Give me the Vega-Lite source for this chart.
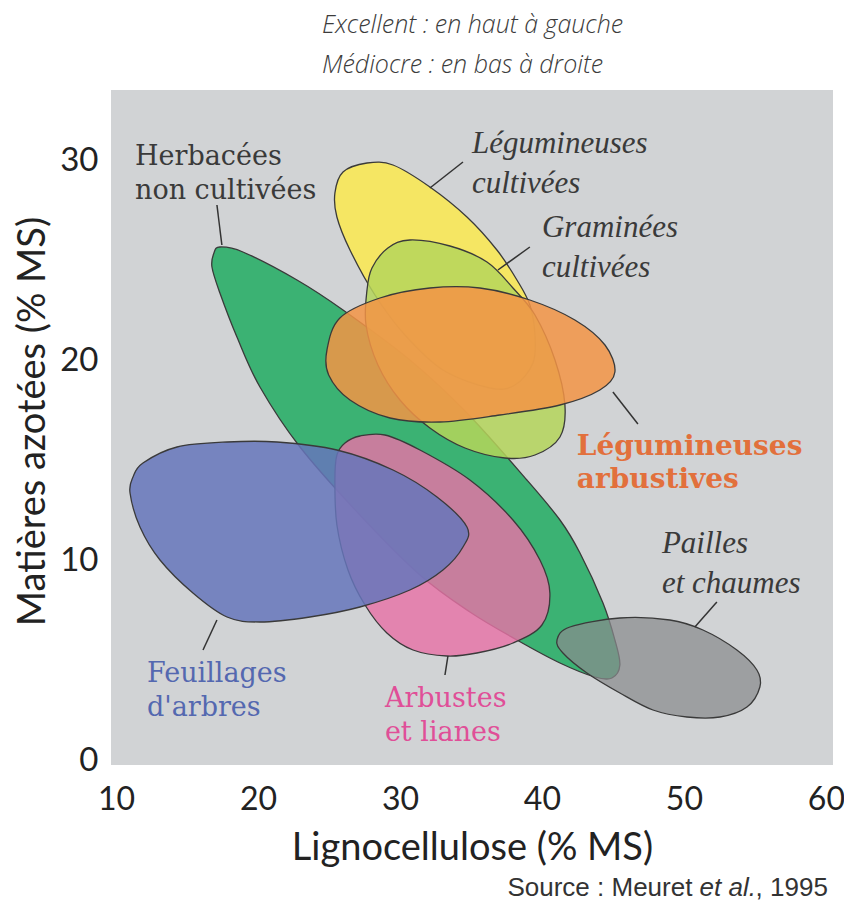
{
  "$schema": "https://vega.github.io/schema/vega-lite/v6.json",
  "width": 722,
  "height": 675,
  "autosize": "none",
  "padding": {"left": 111, "top": 90, "right": 11, "bottom": 141},
  "background": "white",
  "title": {
    "text": ["Excellent : en haut à gauche", "Médiocre : en bas à droite"],
    "anchor": "start",
    "frame": "group",
    "dx": 211,
    "offset": 12,
    "font": "Open Sans",
    "fontSize": 25,
    "fontStyle": "italic",
    "fontWeight": 300,
    "color": "#3c3c3c",
    "lineHeight": 40
  },
  "config": {"view": {"fill": "#d1d3d5", "stroke": null}},
  "datasets": {
    "blobs": [
      {"g": "Herbacées non cultivées", "i": 1, "x": 17.32, "y": 25.65},
      {"g": "Herbacées non cultivées", "i": 2, "x": 18.94, "y": 25.4},
      {"g": "Herbacées non cultivées", "i": 3, "x": 22.75, "y": 24.0},
      {"g": "Herbacées non cultivées", "i": 4, "x": 25.99, "y": 22.5},
      {"g": "Herbacées non cultivées", "i": 5, "x": 30.7, "y": 20.0},
      {"g": "Herbacées non cultivées", "i": 6, "x": 34.72, "y": 17.35},
      {"g": "Herbacées non cultivées", "i": 7, "x": 38.94, "y": 14.0},
      {"g": "Herbacées non cultivées", "i": 8, "x": 41.27, "y": 12.0},
      {"g": "Herbacées non cultivées", "i": 9, "x": 42.68, "y": 10.35},
      {"g": "Herbacées non cultivées", "i": 10, "x": 44.3, "y": 7.85},
      {"g": "Herbacées non cultivées", "i": 11, "x": 45.14, "y": 6.0},
      {"g": "Herbacées non cultivées", "i": 12, "x": 45.49, "y": 4.75},
      {"g": "Herbacées non cultivées", "i": 13, "x": 44.93, "y": 4.1},
      {"g": "Herbacées non cultivées", "i": 14, "x": 43.73, "y": 4.15},
      {"g": "Herbacées non cultivées", "i": 15, "x": 41.27, "y": 4.85},
      {"g": "Herbacées non cultivées", "i": 16, "x": 38.24, "y": 6.0},
      {"g": "Herbacées non cultivées", "i": 17, "x": 34.93, "y": 7.4},
      {"g": "Herbacées non cultivées", "i": 18, "x": 31.41, "y": 9.25},
      {"g": "Herbacées non cultivées", "i": 19, "x": 27.18, "y": 12.25},
      {"g": "Herbacées non cultivées", "i": 20, "x": 22.96, "y": 15.65},
      {"g": "Herbacées non cultivées", "i": 21, "x": 20.14, "y": 18.65},
      {"g": "Herbacées non cultivées", "i": 22, "x": 18.52, "y": 21.15},
      {"g": "Herbacées non cultivées", "i": 23, "x": 17.32, "y": 23.35},
      {"g": "Herbacées non cultivées", "i": 24, "x": 16.76, "y": 24.65},
      {"g": "Herbacées non cultivées", "i": 25, "x": 16.9, "y": 25.35},

      {"g": "Légumineuses cultivées", "i": 1, "x": 27.68, "y": 29.85},
      {"g": "Légumineuses cultivées", "i": 2, "x": 29.51, "y": 29.75},
      {"g": "Légumineuses cultivées", "i": 3, "x": 32.11, "y": 28.65},
      {"g": "Légumineuses cultivées", "i": 4, "x": 34.72, "y": 27.15},
      {"g": "Légumineuses cultivées", "i": 5, "x": 36.83, "y": 25.5},
      {"g": "Légumineuses cultivées", "i": 6, "x": 38.24, "y": 24.0},
      {"g": "Légumineuses cultivées", "i": 7, "x": 39.15, "y": 22.75},
      {"g": "Légumineuses cultivées", "i": 8, "x": 39.51, "y": 21.25},
      {"g": "Légumineuses cultivées", "i": 9, "x": 39.37, "y": 19.85},
      {"g": "Légumineuses cultivées", "i": 10, "x": 38.1, "y": 18.75},
      {"g": "Légumineuses cultivées", "i": 11, "x": 36.34, "y": 18.6},
      {"g": "Légumineuses cultivées", "i": 12, "x": 33.03, "y": 19.5},
      {"g": "Légumineuses cultivées", "i": 13, "x": 30.35, "y": 21.25},
      {"g": "Légumineuses cultivées", "i": 14, "x": 28.24, "y": 23.25},
      {"g": "Légumineuses cultivées", "i": 15, "x": 26.48, "y": 25.5},
      {"g": "Légumineuses cultivées", "i": 16, "x": 25.56, "y": 27.15},
      {"g": "Légumineuses cultivées", "i": 17, "x": 25.42, "y": 28.35},
      {"g": "Légumineuses cultivées", "i": 18, "x": 25.99, "y": 29.4},

      {"g": "Graminées cultivées", "i": 1, "x": 30.7, "y": 26.0},
      {"g": "Graminées cultivées", "i": 2, "x": 33.52, "y": 25.7},
      {"g": "Graminées cultivées", "i": 3, "x": 36.13, "y": 24.9},
      {"g": "Graminées cultivées", "i": 4, "x": 37.96, "y": 23.6},
      {"g": "Graminées cultivées", "i": 5, "x": 39.51, "y": 22.25},
      {"g": "Graminées cultivées", "i": 6, "x": 40.92, "y": 20.0},
      {"g": "Graminées cultivées", "i": 7, "x": 41.62, "y": 17.75},
      {"g": "Graminées cultivées", "i": 8, "x": 41.27, "y": 16.15},
      {"g": "Graminées cultivées", "i": 9, "x": 39.51, "y": 15.25},
      {"g": "Graminées cultivées", "i": 10, "x": 37.39, "y": 15.1},
      {"g": "Graminées cultivées", "i": 11, "x": 34.58, "y": 15.6},
      {"g": "Graminées cultivées", "i": 12, "x": 32.11, "y": 16.6},
      {"g": "Graminées cultivées", "i": 13, "x": 30.0, "y": 18.0},
      {"g": "Graminées cultivées", "i": 14, "x": 28.45, "y": 19.75},
      {"g": "Graminées cultivées", "i": 15, "x": 27.61, "y": 21.75},
      {"g": "Graminées cultivées", "i": 16, "x": 27.68, "y": 23.5},
      {"g": "Graminées cultivées", "i": 17, "x": 28.03, "y": 24.6},
      {"g": "Graminées cultivées", "i": 18, "x": 29.15, "y": 25.6},

      {"g": "Légumineuses arbustives", "i": 1, "x": 24.86, "y": 20.5},
      {"g": "Légumineuses arbustives", "i": 2, "x": 25.77, "y": 22.1},
      {"g": "Légumineuses arbustives", "i": 3, "x": 28.59, "y": 23.1},
      {"g": "Légumineuses arbustives", "i": 4, "x": 32.11, "y": 23.6},
      {"g": "Légumineuses arbustives", "i": 5, "x": 35.63, "y": 23.6},
      {"g": "Légumineuses arbustives", "i": 6, "x": 39.15, "y": 23.0},
      {"g": "Légumineuses arbustives", "i": 7, "x": 42.32, "y": 22.0},
      {"g": "Légumineuses arbustives", "i": 8, "x": 44.44, "y": 20.75},
      {"g": "Légumineuses arbustives", "i": 9, "x": 45.14, "y": 19.4},
      {"g": "Légumineuses arbustives", "i": 10, "x": 44.08, "y": 18.5},
      {"g": "Légumineuses arbustives", "i": 11, "x": 41.27, "y": 17.75},
      {"g": "Légumineuses arbustives", "i": 12, "x": 37.04, "y": 17.25},
      {"g": "Légumineuses arbustives", "i": 13, "x": 32.82, "y": 16.9},
      {"g": "Légumineuses arbustives", "i": 14, "x": 29.3, "y": 17.1},
      {"g": "Légumineuses arbustives", "i": 15, "x": 26.48, "y": 18.0},
      {"g": "Légumineuses arbustives", "i": 16, "x": 24.98, "y": 19.25},

      {"g": "Arbustes et lianes", "i": 1, "x": 26.13, "y": 15.85},
      {"g": "Arbustes et lianes", "i": 2, "x": 27.18, "y": 16.2},
      {"g": "Arbustes et lianes", "i": 3, "x": 28.94, "y": 16.25},
      {"g": "Arbustes et lianes", "i": 4, "x": 31.41, "y": 15.5},
      {"g": "Arbustes et lianes", "i": 5, "x": 34.93, "y": 14.0},
      {"g": "Arbustes et lianes", "i": 6, "x": 37.96, "y": 12.0},
      {"g": "Arbustes et lianes", "i": 7, "x": 39.86, "y": 10.0},
      {"g": "Arbustes et lianes", "i": 8, "x": 40.56, "y": 8.35},
      {"g": "Arbustes et lianes", "i": 9, "x": 40.0, "y": 6.75},
      {"g": "Arbustes et lianes", "i": 10, "x": 37.96, "y": 5.85},
      {"g": "Arbustes et lianes", "i": 11, "x": 35.42, "y": 5.35},
      {"g": "Arbustes et lianes", "i": 12, "x": 33.31, "y": 5.2},
      {"g": "Arbustes et lianes", "i": 13, "x": 30.92, "y": 5.5},
      {"g": "Arbustes et lianes", "i": 14, "x": 29.08, "y": 6.35},
      {"g": "Arbustes et lianes", "i": 15, "x": 27.54, "y": 7.75},
      {"g": "Arbustes et lianes", "i": 16, "x": 26.34, "y": 9.5},
      {"g": "Arbustes et lianes", "i": 17, "x": 25.56, "y": 11.75},
      {"g": "Arbustes et lianes", "i": 18, "x": 25.42, "y": 14.0},
      {"g": "Arbustes et lianes", "i": 19, "x": 25.56, "y": 15.25},

      {"g": "Feuillages d'arbres", "i": 1, "x": 11.9, "y": 14.85},
      {"g": "Feuillages d'arbres", "i": 2, "x": 14.3, "y": 15.65},
      {"g": "Feuillages d'arbres", "i": 3, "x": 17.82, "y": 15.9},
      {"g": "Feuillages d'arbres", "i": 4, "x": 21.34, "y": 15.9},
      {"g": "Feuillages d'arbres", "i": 5, "x": 25.56, "y": 15.5},
      {"g": "Feuillages d'arbres", "i": 6, "x": 29.51, "y": 14.5},
      {"g": "Feuillages d'arbres", "i": 7, "x": 32.61, "y": 13.15},
      {"g": "Feuillages d'arbres", "i": 8, "x": 34.72, "y": 11.65},
      {"g": "Feuillages d'arbres", "i": 9, "x": 34.44, "y": 10.65},
      {"g": "Feuillages d'arbres", "i": 10, "x": 33.03, "y": 9.5},
      {"g": "Feuillages d'arbres", "i": 11, "x": 30.7, "y": 8.5},
      {"g": "Feuillages d'arbres", "i": 12, "x": 27.18, "y": 7.65},
      {"g": "Feuillages d'arbres", "i": 13, "x": 23.66, "y": 7.15},
      {"g": "Feuillages d'arbres", "i": 14, "x": 20.14, "y": 6.9},
      {"g": "Feuillages d'arbres", "i": 15, "x": 17.82, "y": 7.15},
      {"g": "Feuillages d'arbres", "i": 16, "x": 15.42, "y": 8.35},
      {"g": "Feuillages d'arbres", "i": 17, "x": 13.1, "y": 10.0},
      {"g": "Feuillages d'arbres", "i": 18, "x": 11.69, "y": 11.65},
      {"g": "Feuillages d'arbres", "i": 19, "x": 10.99, "y": 13.35},
      {"g": "Feuillages d'arbres", "i": 20, "x": 11.2, "y": 14.15},

      {"g": "Pailles et chaumes", "i": 1, "x": 41.06, "y": 6.0},
      {"g": "Pailles et chaumes", "i": 2, "x": 41.97, "y": 6.65},
      {"g": "Pailles et chaumes", "i": 3, "x": 45.49, "y": 7.1},
      {"g": "Pailles et chaumes", "i": 4, "x": 49.01, "y": 7.0},
      {"g": "Pailles et chaumes", "i": 5, "x": 51.34, "y": 6.5},
      {"g": "Pailles et chaumes", "i": 6, "x": 53.73, "y": 5.5},
      {"g": "Pailles et chaumes", "i": 7, "x": 55.14, "y": 4.5},
      {"g": "Pailles et chaumes", "i": 8, "x": 55.35, "y": 3.65},
      {"g": "Pailles et chaumes", "i": 9, "x": 54.44, "y": 2.65},
      {"g": "Pailles et chaumes", "i": 10, "x": 52.54, "y": 2.15},
      {"g": "Pailles et chaumes", "i": 11, "x": 50.21, "y": 2.15},
      {"g": "Pailles et chaumes", "i": 12, "x": 47.82, "y": 2.5},
      {"g": "Pailles et chaumes", "i": 13, "x": 45.49, "y": 3.35},
      {"g": "Pailles et chaumes", "i": 14, "x": 43.17, "y": 4.35},
      {"g": "Pailles et chaumes", "i": 15, "x": 41.48, "y": 5.35}
    ],
    "leaders": [
      {"x": 17.11, "y": 27.75, "x2": 17.46, "y2": 25.75},
      {"x": 34.44, "y": 29.9, "x2": 32.11, "y2": 28.6},
      {"x": 39.15, "y": 25.65, "x2": 36.9, "y2": 24.5},
      {"x": 45.0, "y": 18.4, "x2": 46.76, "y2": 16.8},
      {"x": 52.32, "y": 7.9, "x2": 50.77, "y2": 6.65},
      {"x": 17.11, "y": 7.0, "x2": 16.13, "y2": 5.5},
      {"x": 33.38, "y": 5.2, "x2": 33.17, "y2": 4.25}
    ],
    "italicLabels": [
      {"t": "Légumineuses\ncultivées", "x": 35.07, "y": 30.35},
      {"t": "Graminées\ncultivées", "x": 40.0, "y": 26.15},
      {"t": "Pailles\net chaumes", "x": 48.45, "y": 10.35}
    ],
    "romanLabels": [
      {"t": "Herbacées\nnon cultivées", "k": "Herbacées", "x": 11.34, "y": 29.75},
      {"t": "Feuillages\nd'arbres", "k": "Feuillages", "x": 12.18, "y": 3.9},
      {"t": "Arbustes\net lianes", "k": "Arbustes", "x": 28.94, "y": 2.65}
    ],
    "boldLabels": [
      {"t": "Légumineuses\narbustives", "x": 42.46, "y": 15.25}
    ],
    "source": [
      {"a": "Source : Meuret", "b": "et al.", "c": ", 1995", "xa": 50.6, "xb": 55.07, "xc": 60.14, "y": -6.8}
    ]
  },
  "encoding": {
    "x": {
      "field": "x",
      "type": "quantitative",
      "scale": {"domain": [9.65, 60.5], "nice": false, "zero": false},
      "axis": {
        "title": "Lignocellulose (% MS)",
        "values": [10, 20, 30, 40, 50, 60],
        "domain": false,
        "ticks": false,
        "grid": false,
        "labelFlush": false,
        "labelFont": "Lato",
        "labelFontSize": 32,
        "labelColor": "#222222",
        "labelPadding": 19,
        "titleFont": "Lato",
        "titleFontSize": 38,
        "titleFontWeight": "normal",
        "titleColor": "#222222",
        "titlePadding": 14
      }
    },
    "y": {
      "field": "y",
      "type": "quantitative",
      "scale": {"domain": [-0.25, 33.5], "nice": false, "zero": false},
      "axis": {
        "title": "Matières azotées (% MS)",
        "values": [0, 10, 20, 30],
        "domain": false,
        "ticks": false,
        "grid": false,
        "labelFont": "Lato",
        "labelFontSize": 33,
        "labelColor": "#222222",
        "labelPadding": 13,
        "titleFont": "Lato",
        "titleFontSize": 38,
        "titleFontWeight": "normal",
        "titleColor": "#222222",
        "titleAngle": 270,
        "titleX": -78,
        "titleY": 331,
        "titleAlign": "center",
        "titleBaseline": "middle"
      }
    }
  },
  "layer": [
    {
      "data": {"name": "blobs"},
      "encoding": {"order": {"field": "i", "type": "quantitative"}},
      "layer": [
        {
          "transform": [{"filter": {"field": "g", "equal": "Herbacées non cultivées"}}],
          "mark": {"type": "line", "interpolate": "cardinal-closed", "stroke": "#3a3a3a", "strokeWidth": 1.3, "fill": "#3bb273", "fillOpacity": 1}
        },
        {
          "transform": [{"filter": {"field": "g", "equal": "Légumineuses cultivées"}}],
          "mark": {"type": "line", "interpolate": "cardinal-closed", "stroke": "#3a3a3a", "strokeWidth": 1.3, "fill": "#f5e663", "fillOpacity": 1}
        },
        {
          "transform": [{"filter": {"field": "g", "equal": "Graminées cultivées"}}],
          "mark": {"type": "line", "interpolate": "cardinal-closed", "stroke": "#3a3a3a", "strokeWidth": 1.3, "fill": "#b5d55a", "fillOpacity": 0.85}
        },
        {
          "transform": [{"filter": {"field": "g", "equal": "Légumineuses arbustives"}}],
          "mark": {"type": "line", "interpolate": "cardinal-closed", "stroke": "#3a3a3a", "strokeWidth": 1.3, "fill": "#f39445", "fillOpacity": 0.85}
        },
        {
          "transform": [{"filter": {"field": "g", "equal": "Arbustes et lianes"}}],
          "mark": {"type": "line", "interpolate": "cardinal-closed", "stroke": "#3a3a3a", "strokeWidth": 1.3, "fill": "#e673a6", "fillOpacity": 0.82}
        },
        {
          "transform": [{"filter": {"field": "g", "equal": "Feuillages d'arbres"}}],
          "mark": {"type": "line", "interpolate": "cardinal-closed", "stroke": "#3a3a3a", "strokeWidth": 1.3, "fill": "#6676bb", "fillOpacity": 0.85}
        },
        {
          "transform": [{"filter": {"field": "g", "equal": "Pailles et chaumes"}}],
          "mark": {"type": "line", "interpolate": "cardinal-closed", "stroke": "#3a3a3a", "strokeWidth": 1.3, "fill": "#898a8e", "fillOpacity": 0.72}
        }
      ]
    },
    {
      "data": {"name": "leaders"},
      "mark": {"type": "rule", "stroke": "#333333", "strokeWidth": 1.5},
      "encoding": {
        "x2": {"field": "x2"},
        "y2": {"field": "y2"}
      }
    },
    {
      "data": {"name": "italicLabels"},
      "mark": {"type": "text", "font": "Liberation Serif", "fontStyle": "italic", "fontSize": 31, "lineHeight": 40, "lineBreak": "\n", "align": "left", "baseline": "alphabetic", "color": "#3a3a3a"},
      "encoding": {"text": {"field": "t"}}
    },
    {
      "data": {"name": "romanLabels"},
      "mark": {"type": "text", "font": "DejaVu Serif", "fontSize": 27, "lineHeight": 34, "lineBreak": "\n", "align": "left", "baseline": "alphabetic"},
      "encoding": {
        "text": {"field": "t"},
        "color": {
          "field": "k",
          "type": "nominal",
          "scale": {"domain": ["Herbacées", "Feuillages", "Arbustes"], "range": ["#3a3a3a", "#5468b0", "#e04f98"]},
          "legend": null
        }
      }
    },
    {
      "data": {"name": "boldLabels"},
      "mark": {"type": "text", "font": "DejaVu Serif", "fontWeight": "bold", "fontSize": 28, "lineHeight": 33, "lineBreak": "\n", "align": "left", "baseline": "alphabetic", "color": "#e2703c"},
      "encoding": {"text": {"field": "t"}}
    },
    {
      "data": {"name": "source"},
      "mark": {"type": "text", "font": "Liberation Sans", "fontSize": 26, "align": "right", "baseline": "alphabetic", "color": "#333333"},
      "encoding": {"x": {"field": "xa", "type": "quantitative"}, "text": {"field": "a"}}
    },
    {
      "data": {"name": "source"},
      "mark": {"type": "text", "font": "Liberation Sans", "fontStyle": "italic", "fontSize": 26, "align": "right", "baseline": "alphabetic", "color": "#333333"},
      "encoding": {"x": {"field": "xb", "type": "quantitative"}, "text": {"field": "b"}}
    },
    {
      "data": {"name": "source"},
      "mark": {"type": "text", "font": "Liberation Sans", "fontSize": 26, "align": "right", "baseline": "alphabetic", "color": "#333333"},
      "encoding": {"x": {"field": "xc", "type": "quantitative"}, "text": {"field": "c"}}
    }
  ]
}
